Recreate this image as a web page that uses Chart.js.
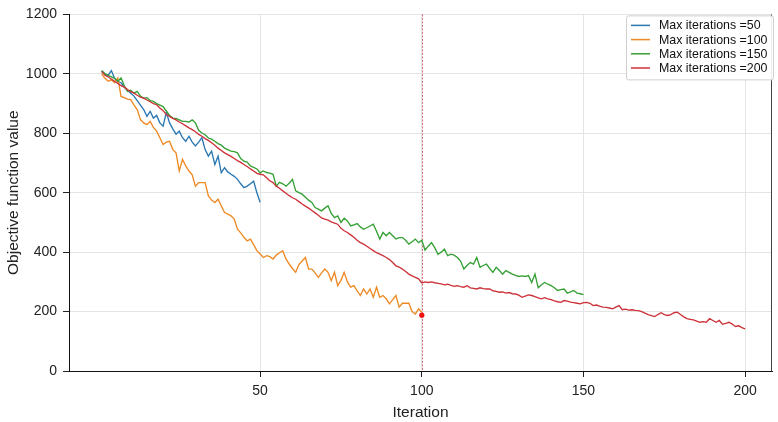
<!DOCTYPE html>
<html>
<head>
<meta charset="utf-8">
<script src="https://cdn.jsdelivr.net/npm/chart.js@4.4.0/dist/chart.umd.min.js"></script>
<style>
html,body{margin:0;padding:0;background:#fff;}
#wrap{width:778px;height:422px;position:relative;}
</style>
</head>
<body>
<div id="wrap"><canvas id="c" width="778" height="422"></canvas></div>
<script>
const seriesLabels = ["Max iterations =50", "Max iterations =100", "Max iterations =150", "Max iterations =200"];
const seriesColors = ["#2a77b2", "#ee8a24", "#35a035", "#cc3238"];

const maxIter50 = [1010,1000,995,1011,985,975,970,955,945,935,925,910,895,880,857,874,851,860,835,824,870,835,815,797,807,785,773,790,770,757,770,785,745,723,740,695,723,667,684,670,662,655,645,630,617,622,630,639,600,568];

const maxIter100 = [1000,985,975,980,970,986,924,920,915,913,895,880,846,835,829,840,820,807,785,762,770,773,745,734,673,712,690,673,660,622,634,634,634,589,575,567,578,555,533,528,522,511,477,465,450,438,444,425,405,394,382,388,385,377,390,398,405,377,360,345,332,358,370,382,343,343,330,315,330,343,332,304,332,287,305,332,300,282,287,270,254,276,259,276,248,282,248,254,243,226,240,254,215,228,228,228,200,192,209,198];

const maxIter150 = [1010,1000,995,990,985,975,986,960,941,945,935,941,925,918,920,910,907,900,895,890,875,860,851,850,845,840,840,838,845,835,810,801,795,784,780,773,765,760,750,745,740,738,734,715,706,703,690,685,680,667,673,668,666,662,622,635,630,622,632,645,606,600,595,585,575,567,550,545,539,548,556,530,516,522,500,514,505,488,492,496,485,477,482,488,494,470,444,466,455,466,455,444,449,449,440,427,435,444,432,440,407,420,432,415,393,400,410,388,393,390,382,370,343,355,365,360,382,349,355,360,345,332,349,338,326,338,332,326,322,318,320,318,321,298,326,280,290,298,292,287,280,271,274,276,262,266,271,262,260,257];

const maxIter200 = [1008,995,990,982,975,968,960,955,947,940,935,928,922,918,912,906,900,896,885,876,863,857,850,845,838,832,825,818,812,805,796,790,782,776,768,760,750,742,734,728,722,715,708,702,695,688,680,673,665,662,660,650,640,634,622,615,606,598,590,583,578,570,562,555,548,540,532,524,515,511,508,502,498,494,480,472,466,458,450,440,432,427,420,412,405,398,393,388,382,375,365,354,350,343,335,326,320,315,310,296,300,298,300,297,295,293,290,292,288,285,287,284,282,287,280,278,276,280,277,276,276,270,268,265,266,262,264,260,259,255,248,252,256,254,250,246,243,247,243,240,236,233,231,237,235,232,230,228,226,230,231,228,220,222,218,215,214,212,209,215,220,206,208,205,206,204,203,200,195,190,186,183,190,196,190,187,190,196,198,190,182,176,174,172,168,164,166,164,176,170,164,170,157,160,164,158,150,152,146,142];

const markerIteration = [100];
const markerValue = [188];

const xTicks = [50, 100, 150, 200];
const yTicks = [0, 200, 400, 600, 800, 1000, 1200];

const allSeries = [maxIter50, maxIter100, maxIter150, maxIter200];

const datasets = allSeries.map((vals, k) => ({
  label: seriesLabels[k],
  data: vals.map((v, i) => ({x: i + 1, y: v})),
  borderColor: seriesColors[k],
  backgroundColor: seriesColors[k],
  borderWidth: 1.35,
  pointRadius: 0,
  tension: 0,
  fill: false,
  order: 4 - k
}));
datasets.push({
  label: "marker",
  data: markerIteration.map((x, i) => ({x: x, y: markerValue[i]})),
  showLine: false,
  pointRadius: 2.6,
  pointBackgroundColor: "#ee1111",
  pointBorderWidth: 0,
  borderColor: "#ee1111",
  order: 0
});

const FONT = "'Liberation Sans', Arial, Helvetica, sans-serif";

const framePlugin = {
  id: 'frame',
  beforeDatasetsDraw(chart) {
    const {ctx, chartArea, scales} = chart;
    const x = scales.x.getPixelForValue(markerIteration[0]);
    ctx.save();
    ctx.strokeStyle = '#444';
    ctx.lineWidth = 1;
    ctx.beginPath();
    ctx.moveTo(Math.round(chartArea.right) - 0.5, chartArea.top);
    ctx.lineTo(Math.round(chartArea.right) - 0.5, chartArea.bottom);
    ctx.stroke();
    ctx.strokeStyle = 'rgba(205,60,70,0.75)';
    ctx.setLineDash([2, 1.5]);
    ctx.beginPath();
    ctx.moveTo(Math.round(x) + 0.5, chartArea.top);
    ctx.lineTo(Math.round(x) + 0.5, chartArea.bottom);
    ctx.stroke();
    ctx.restore();
  }
};

const legendPlugin = {
  id: 'boxLegend',
  afterDraw(chart) {
    const {ctx, chartArea} = chart;
    const items = chart.data.datasets.slice(0, 4);
    const right = chartArea.right + 1;
    const top = chartArea.top + 1;
    const w = 147, rowH = 14.2, h = 64;
    const left = right - w;
    ctx.save();
    ctx.fillStyle = 'rgba(255,255,255,0.9)';
    ctx.strokeStyle = '#d0d0d0';
    ctx.lineWidth = 1;
    ctx.beginPath();
    ctx.roundRect(left + 0.5, top + 0.5, w, h, 2);
    ctx.fill();
    ctx.stroke();
    ctx.font = "12.4px " + FONT;
    ctx.textBaseline = 'middle';
    items.forEach((d, i) => {
      const y = top + 10 + i * rowH;
      ctx.strokeStyle = d.borderColor;
      ctx.lineWidth = 1.5;
      ctx.beginPath();
      ctx.moveTo(left + 5, y);
      ctx.lineTo(left + 24, y);
      ctx.stroke();
      ctx.fillStyle = '#111';
      ctx.fillText(d.label, left + 33, y + 0.5);
    });
    ctx.restore();
  }
};

new Chart(document.getElementById('c'), {
  type: 'line',
  data: {datasets},
  plugins: [framePlugin, legendPlugin],
  options: {
    responsive: false,
    animation: false,
    devicePixelRatio: 1,
    layout: {padding: {left: 0, right: 6, top: 10.5, bottom: 0}},
    plugins: {legend: {display: false}, tooltip: {enabled: false}},
    scales: {
      x: {
        type: 'linear',
        min: -9.1,
        max: 208.3,
        afterBuildTicks(s) { s.ticks = xTicks.map(v => ({value: v})); },
        afterFit(s) { s.height = 51; },
        grid: {color: '#e4e4e4', lineWidth: 1, tickLength: 6, tickColor: '#222', drawOnChartArea: true},
        border: {color: '#111', width: 1},
        ticks: {color: '#222', font: {family: FONT, size: 14}, padding: 6, maxRotation: 0, callback: v => String(v)},
        title: {display: true, text: 'Iteration', color: '#222', font: {family: FONT, size: 15.5}, padding: {top: 0, bottom: 0}}
      },
      y: {
        min: 0,
        max: 1200,
        afterBuildTicks(s) { s.ticks = yTicks.map(v => ({value: v})); },
        afterFit(s) { s.width = 69; },
        grid: {color: '#e4e4e4', lineWidth: 1, tickLength: 6, tickColor: '#222'},
        border: {color: '#111', width: 1},
        ticks: {color: '#222', font: {family: FONT, size: 14}, padding: 6, callback: v => String(v)},
        title: {display: true, text: 'Objective function value', color: '#222', font: {family: FONT, size: 15.5}, padding: {top: 4, bottom: 0}}
      }
    }
  }
});
</script>
</body>
</html>
